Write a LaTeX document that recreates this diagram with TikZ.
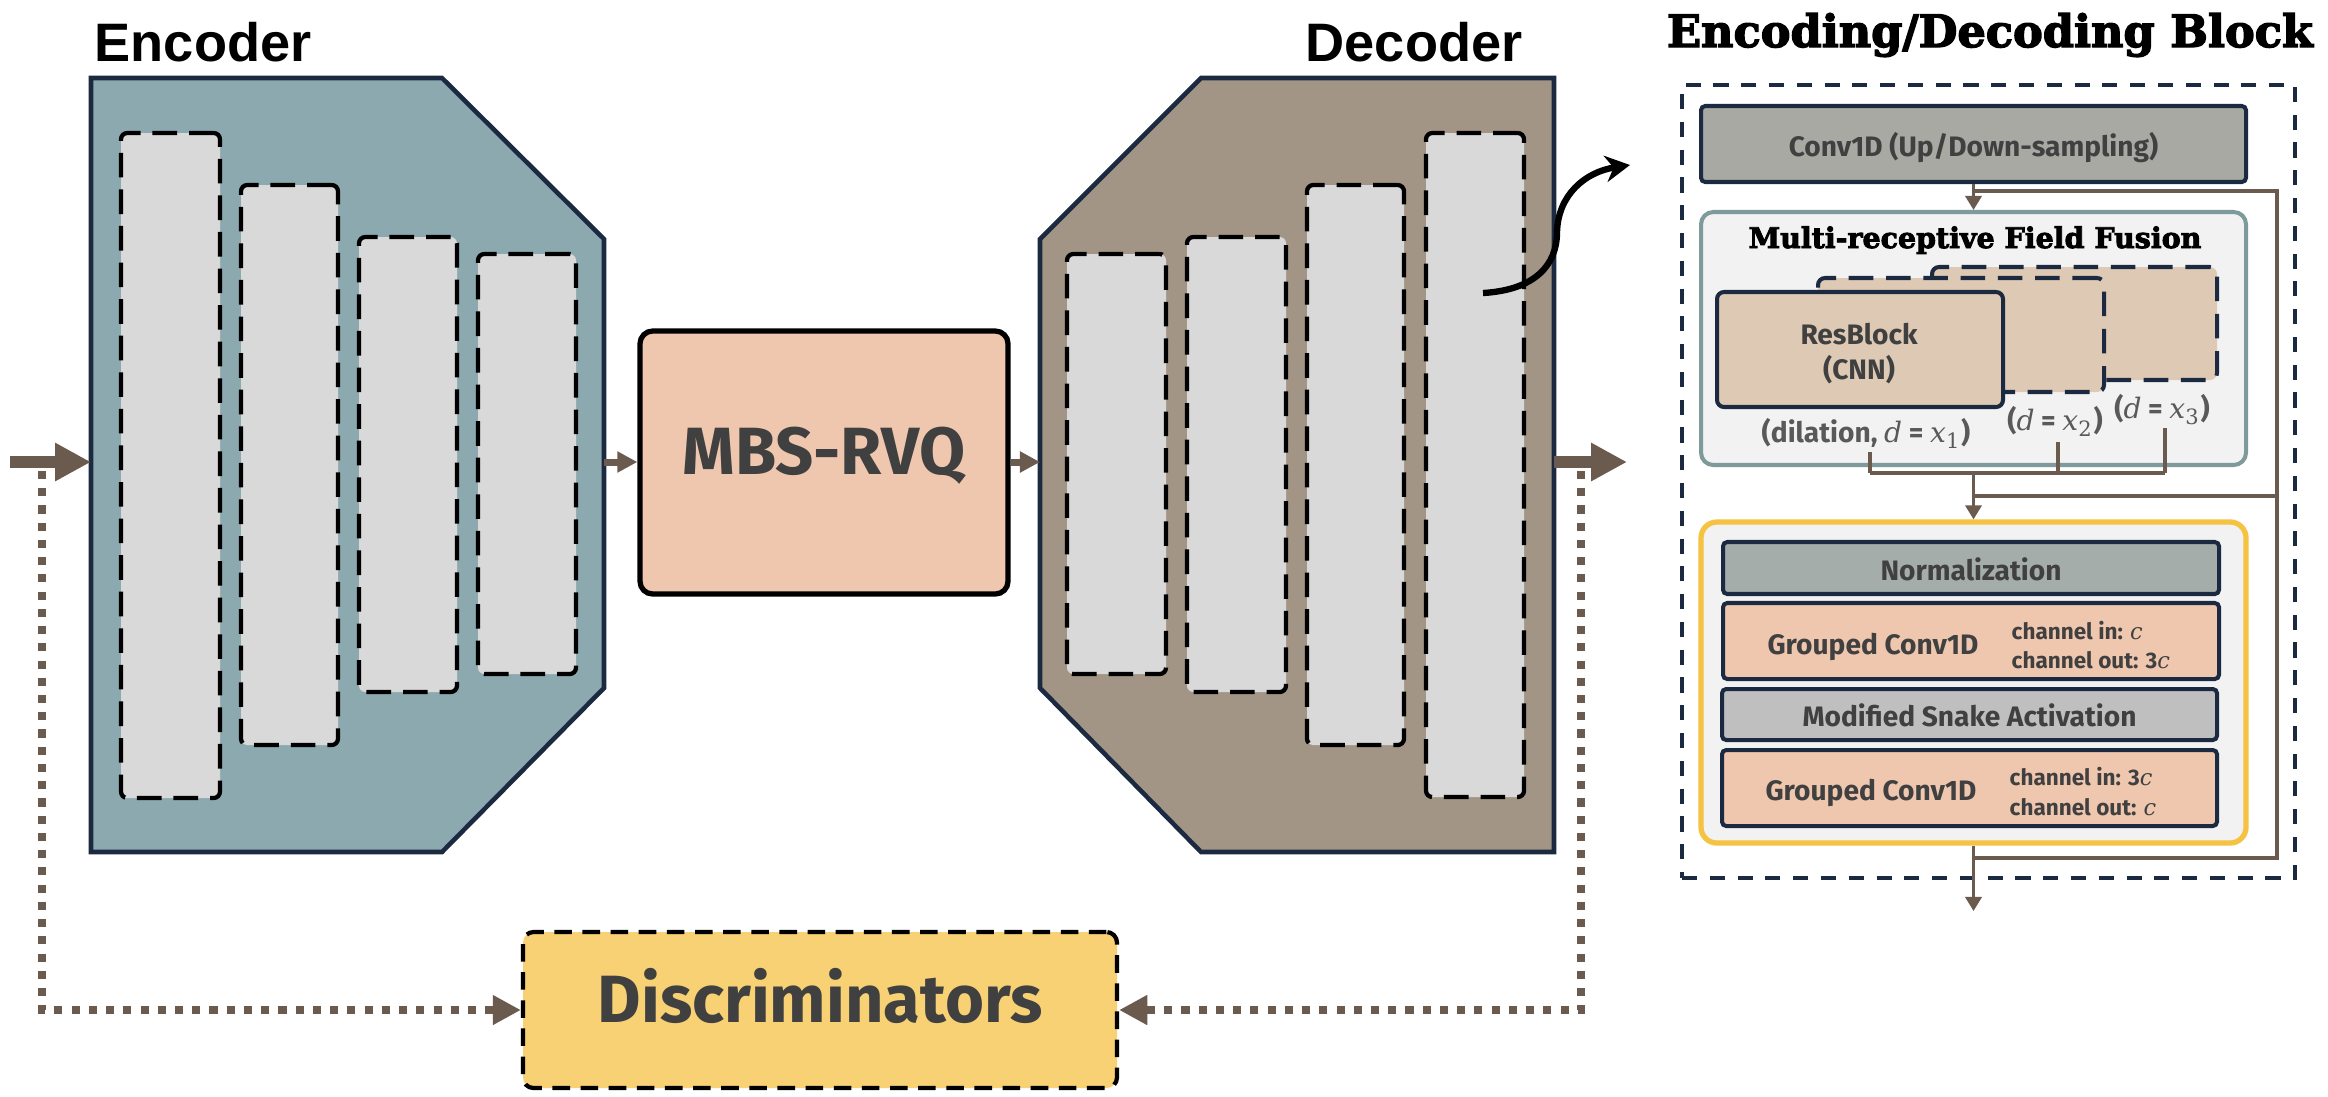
\documentclass[tikz,border=0pt]{standalone}
\usepackage{fontspec}
\setmainfont{Fira Sans}
\newfontfamily\titlefont{Liberation Sans}
\newfontfamily\slabfont[FakeBold=3]{DejaVu Serif}
\newfontfamily\mitfont{DejaVu Serif}
\usetikzlibrary{arrows.meta,fit}
\definecolor{encfill}{HTML}{8CA9B0}
\definecolor{decfill}{HTML}{A29585}
\definecolor{navy}{HTML}{1B2A41}
\definecolor{barfill}{HTML}{D9D9D9}
\definecolor{peach}{HTML}{EFC7AF}
\definecolor{discfill}{HTML}{F7D173}
\definecolor{brownc}{HTML}{6B5A4E}
\definecolor{txtgray}{HTML}{404040}
\definecolor{convgray}{HTML}{A8A9A3}
\definecolor{normgray}{HTML}{A5ADAA}
\definecolor{snakegray}{HTML}{BFBFBF}
\definecolor{mfffill}{HTML}{F2F2F2}
\definecolor{mffborder}{HTML}{7F9A9A}
\definecolor{goldc}{HTML}{F5C242}
\definecolor{resfill}{HTML}{DDC9B4}
\definecolor{lblgray}{HTML}{595959}
\newcommand\FS[1]{\fontsize{#1pt}{#1pt}\selectfont}
\newcommand\mi[1]{{\mitfont\mdseries\itshape #1}}
\tikzset{
  body/.style={draw=navy, line width=1.3pt, line join=miter},
  bar/.style={draw=black, line width=1.2pt, dash pattern=on 7pt off 3.4pt, fill=barfill, rounded corners=1.8pt, inner sep=0pt},
  bigarrow/.style={draw=brownc, line width=3.4pt, -{Triangle[length=10.2pt,width=10.2pt]}},
  smallarrow/.style={draw=brownc, line width=2pt, -{Triangle[length=5.7pt,width=5.7pt]}},
  dotline/.style={draw=brownc, line width=2.3pt, dash pattern=on 2.3pt off 2.6pt},
  dottip/.style={-{Triangle[length=8pt,width=8pt]}},
  skip/.style={draw=brownc, line width=0.9pt},
  skiptip/.style={-{Triangle[length=4pt,width=4.6pt]}},
  blk/.style={draw=navy, line width=1.15pt, rounded corners=1.2pt, inner sep=0pt},
  ctext/.style={inner sep=0pt, text height=0.69em, text depth=0pt, text=txtgray},
  maintext/.style={ctext, font=\bfseries\FS{19}},
  blktext/.style={ctext, font=\bfseries\FS{8}},
  chan/.style={text=txtgray, font=\bfseries\FS{6.4}, anchor=west, inner sep=0pt, text height=0.69em, text depth=0pt},
  lbl/.style={text=lblgray, font=\bfseries\FS{8}, inner sep=0pt, text height=0.69em, text depth=0pt},
}
\begin{document}
\begin{tikzpicture}[x=0.01cm,y=-0.01cm]
\useasboundingbox (0,0) rectangle (2328,1096);

% ---------- titles
\node[anchor=base west, inner sep=0pt, font=\titlefont\bfseries\FS{15.4}] (enctitle) at (94,61) {Encoder};
\node[anchor=base west, inner sep=0pt, font=\titlefont\bfseries\FS{15.4}] (dectitle) at (1305,61) {Decoder};
\node[anchor=base, inner sep=0pt, font=\slabfont\bfseries\FS{12.7}] (blktitle) at (1990,47) {Encoding/Decoding Block};

% ---------- encoder
\draw[body, fill=encfill] (91,78) -- (442,78) -- (604,239) -- (604,688) -- (442,852) -- (91,852) -- cycle;
\node[bar, fit={(121,133) (220,798)}] (e1) {};
\node[bar, fit={(241,185) (338,745)}] (e2) {};
\node[bar, fit={(359,237) (457,692)}] (e3) {};
\node[bar, fit={(478,254) (576,674)}] (e4) {};
\coordinate (encL) at (91,462);
\coordinate (encR) at (604,462);

% ---------- decoder
\draw[body, fill=decfill] (1201,78) -- (1554,78) -- (1554,852) -- (1201,852) -- (1040,688) -- (1040,239) -- cycle;
\node[bar, fit={(1067,254) (1166,674)}] (d1) {};
\node[bar, fit={(1187,237) (1286,692)}] (d2) {};
\node[bar, fit={(1307,185) (1404,745)}] (d3) {};
\node[bar, fit={(1426,133) (1524,797)}] (d4) {};
\coordinate (decL) at (1040,462);
\coordinate (decR) at (1554,462);

% ---------- MBS-RVQ
\node[draw=black, line width=1.5pt, fill=peach, rounded corners=3.6pt, inner sep=0pt,
      fit={(640,331) (1008,594)}] (mbs) {};
\node[maintext] (mbst) at (mbs.center) {MBS-RVQ};

% ---------- Discriminators
\node[draw=black, line width=1.2pt, dash pattern=on 5pt off 3pt, fill=discfill, rounded corners=3pt, inner sep=0pt,
      fit={(523,932) (1117,1088)}] (disc) {};
\node[maintext] (disct) at (disc.center) {Discriminators};

% ---------- main arrows
\coordinate (in) at (10,462);
\coordinate (out) at (1627,462);
\draw[bigarrow] (in) -- (encL);
\draw[bigarrow] (decR) -- (out);
\draw[smallarrow] (encR) -- (mbs.west |- encR);
\draw[smallarrow] (mbs.east |- decL) -- (decL);
\coordinate (dotA) at (42,471);
\coordinate (dotB) at (1581,471);
\draw[dotline, dottip] (dotA) |- (disc.west);
\draw[dotline, dottip] (dotB) |- (disc.east);

% ---------- curved arrow
\coordinate (cvs) at (1483,293);
\coordinate (cve) at (1630,165);
\draw[black, line width=1.8pt, -{Stealth[length=7pt,width=7.5pt]}] (cvs) .. controls (1535,290) and (1557,265) .. (1557,232) .. controls (1558,195) and (1585,172) .. (cve);

% ---------- encoding/decoding block
\node[draw=navy, line width=1.1pt, dash pattern=on 4.3pt off 3.6pt, inner sep=0pt, fit={(1682,85) (2295,878)}] (outer) {};
\node[blk, fill=convgray, fit={(1701,106) (2246,182)}] (conv) {};
\node[blktext] (convt) at (conv.center) {Conv1D (Up/Down-sampling)};
\node[draw=mffborder, fill=mfffill, line width=1.15pt, rounded corners=3.5pt, inner sep=0pt, fit={(1701,212) (2246,465)}] (mff) {};
\node[anchor=base, inner sep=0pt, font=\slabfont\bfseries\FS{8.1}] (mfftitle) at (1975,248) {Multi-receptive Field Fusion};
\node[blk, fill=resfill, dash pattern=on 7pt off 3.6pt, rounded corners=2pt, fit={(1932,267) (2217,380)}] (res3) {};
\node[blk, fill=resfill, dash pattern=on 7pt off 3.6pt, rounded corners=2pt, fit={(1818,278) (2104,392)}] (res2) {};
\node[blk, fill=resfill, rounded corners=2pt, fit={(1717,292) (2003,407)}] (res1) {};
\node[blktext] (res1a) at (1859,332) {ResBlock};
\node[blktext] (res1b) at (1859,367) {(CNN)};
\node[lbl] (l1) at (1866,430) {(dilation, \mi{d} = \mi{x}\textsubscript{\mitfont\mdseries 1})};
\node[lbl] (l2) at (2055,418) {(\mi{d} = \mi{x}\textsubscript{\mitfont\mdseries 2})};
\node[lbl] (l3) at (2162,406) {(\mi{d} = \mi{x}\textsubscript{\mitfont\mdseries 3})};

\node[draw=goldc, fill=mfffill, line width=1.5pt, rounded corners=4.5pt, inner sep=0pt, fit={(1701,522) (2246,843)}] (yel) {};
\node[blk, fill=normgray, fit={(1723,542) (2219,594)}] (norm) {};
\node[blktext] (normt) at (norm.center) {Normalization};
\node[blk, fill=peach, fit={(1723,603) (2219,679)}] (gc1) {};
\node[blk, fill=snakegray, fit={(1722,689) (2217,740)}] (snake) {};
\node[blktext] (snaket) at (snake.center) {Modified Snake Activation};
\node[blk, fill=peach, fit={(1722,750) (2217,826)}] (gc2) {};
\node[blktext] (gc1t) at (1873,642) {Grouped Conv1D};
\node[blktext] (gc2t) at (1871,788) {Grouped Conv1D};
\node[chan] (c1a) at (2011,627) {channel in: \mi{c}};
\node[chan] (c1b) at (2011,656) {channel out: 3\mi{c}};
\node[chan] (c2a) at (2009,773) {channel in: 3\mi{c}};
\node[chan] (c2b) at (2009,803) {channel out: \mi{c}};

% block connectors
\coordinate (s1) at (1973.5,191);
\coordinate (s2) at (2277,191);
\coordinate (s3) at (2277,858);
\coordinate (s4) at (1973.5,858);
\coordinate (s5) at (1973.5,496);
\coordinate (s6) at (2277,496);
\coordinate (j1) at (1870,473);
\coordinate (j2) at (2058,473);
\coordinate (j3) at (2165,473);
\coordinate (jm) at (1973.5,473);
\coordinate (bend) at (1973.5,911);
\draw[skip, skiptip] (conv.south) -- (mff.north);
\draw[skip] (s1) -- (s2) -- (s3) -- (s4);
\draw[skip] (s6) -- (s5);
\draw[skip] (1870,452) -- (j1);
\draw[skip] (2058,442) -- (j2);
\draw[skip] (2165,428) -- (j3);
\draw[skip] (j1) -- (j3);
\draw[skip, skiptip] (jm) -- (yel.north);
\draw[skip, skiptip] (yel.south) -- (bend);
\end{tikzpicture}
\end{document}
